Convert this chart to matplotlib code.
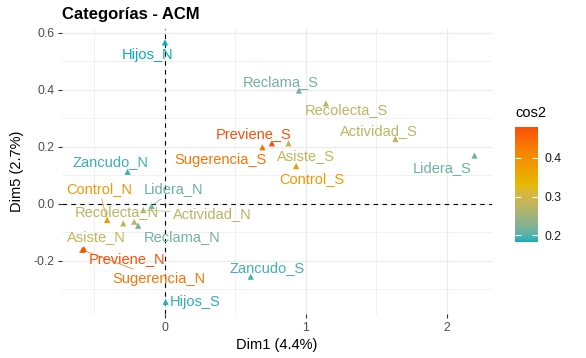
"""Mapa de categorias del ACM (Dim1 vs Dim5), coloreado por cos2."""
import numpy as np
import matplotlib
matplotlib.use("Agg")
import matplotlib.pyplot as plt
from matplotlib.colors import ListedColormap, Normalize, to_rgb
from matplotlib.cm import ScalarMappable

categorias = ["Hijos_N", "Hijos_S", "Zancudo_N", "Zancudo_S", "Reclama_S",
              "Reclama_N", "Lidera_S", "Lidera_N", "Recolecta_S", "Recolecta_N",
              "Actividad_S", "Actividad_N", "Asiste_S", "Asiste_N", "Control_S",
              "Control_N", "Sugerencia_S", "Sugerencia_N", "Previene_S", "Previene_N"]
dim1 = [0.000, 0.005, -0.265, 0.608, 0.950,
        -0.190, 2.195, -0.094, 1.141, -0.218,
        1.634, -0.154, 0.876, -0.296, 0.930,
        -0.410, 0.691, -0.587, 0.758, -0.575]
dim5 = [0.567, -0.343, 0.113, -0.255, 0.398,
        -0.076, 0.170, -0.007, 0.353, -0.062,
        0.228, -0.021, 0.213, -0.068, 0.133,
        -0.056, 0.199, -0.161, 0.213, -0.158]
cos2 = [0.183, 0.188, 0.192, 0.195, 0.215,
        0.215, 0.212, 0.212, 0.275, 0.275,
        0.275, 0.275, 0.285, 0.285, 0.385,
        0.385, 0.435, 0.435, 0.480, 0.480]

TITULO = "Categorías - ACM"
ETIQ_X = "Dim1 (4.4%)"
ETIQ_Y = "Dim5 (2.7%)"
GRADIENTE = ["#00AFBB", "#E7B800", "#FC4E07"]
x_ticks = [0, 1, 2]
y_ticks = [-0.2, 0.0, 0.2, 0.4, 0.6]
cb_ticks = [0.2, 0.3, 0.4]

# desplazamiento de cada etiqueta respecto a su punto (pixeles), como ggrepel
desplaz = {
    "Hijos_N": (-17, -13), "Hijos_S": (29, 0), "Zancudo_N": (-17, 10),
    "Zancudo_S": (16, 9), "Reclama_S": (-18, 9), "Reclama_N": (44, -11),
    "Lidera_S": (-32, -12), "Lidera_N": (22, 17), "Recolecta_S": (21, -7),
    "Recolecta_N": (-17, 10), "Actividad_S": (-16, 8), "Actividad_N": (69, -4),
    "Asiste_S": (17, -13), "Asiste_N": (-27, -14), "Control_S": (16, -13),
    "Control_N": (-8, 31), "Sugerencia_S": (-42, -13), "Sugerencia_N": (77, -29),
    "Previene_S": (-18, 9), "Previene_N": (43, -10),
}
con_segmento = {"Control_N", "Lidera_N", "Actividad_N", "Previene_N", "Sugerencia_N"}

# gradiente interpolado en Lab, como scale_color_gradientn de ggplot
M = np.array([[0.4124, 0.3576, 0.1805],
              [0.2126, 0.7152, 0.0722],
              [0.0193, 0.1192, 0.9505]])
BLANCO = np.array([0.95047, 1.0, 1.08883])


def a_lab(c):
    c = np.asarray(c, float)
    lin = np.where(c <= 0.04045, c / 12.92, ((c + 0.055) / 1.055) ** 2.4)
    xyz = M @ lin / BLANCO
    f = np.where(xyz > 0.008856, np.cbrt(xyz), 7.787 * xyz + 16 / 116)
    return np.array([116 * f[1] - 16, 500 * (f[0] - f[1]), 200 * (f[1] - f[2])])


def a_rgb(lab):
    fy = (lab[0] + 16) / 116
    f = np.array([fy + lab[1] / 500, fy, fy - lab[2] / 200])
    xyz = np.where(f ** 3 > 0.008856, f ** 3, (f - 16 / 116) / 7.787) * BLANCO
    lin = np.clip(np.linalg.inv(M) @ xyz, 0, 1)
    return np.clip(np.where(lin <= 0.0031308, 12.92 * lin, 1.055 * lin ** (1 / 2.4) - 0.055), 0, 1)


labs = [a_lab(to_rgb(c)) for c in GRADIENTE]
muestras = []
for t in np.linspace(0, 1, 256):
    i = 0 if t < 0.5 else 1
    u = (t - 0.5 * i) / 0.5
    muestras.append(a_rgb(labs[i] * (1 - u) + labs[i + 1] * u))
cmap = ListedColormap(muestras)
norm = Normalize(min(cos2), max(cos2))

plt.rcParams["font.family"] = ["Liberation Sans", "DejaVu Sans"]
plt.rcParams["axes.unicode_minus"] = False

W, H = 586, 358
fig = plt.figure(figsize=(W / 100, H / 100), dpi=100)
ax = fig.add_axes([62 / W, 1 - 314 / H, 430 / W, 285 / H])

ax.set_xlim(-0.730, 2.319)
ax.set_ylim(-0.386, 0.614)
ax.set_xticks(x_ticks)
ax.set_xticklabels([str(v) for v in x_ticks])
ax.set_yticks(y_ticks)
ax.set_yticklabels([f"{v:.1f}" for v in y_ticks])
ax.set_xticks([-0.5, 0.5, 1.5], minor=True)
ax.set_yticks([-0.3, -0.1, 0.1, 0.3, 0.5], minor=True)
ax.grid(which="major", color="#EBEBEB", lw=0.9)
ax.grid(which="minor", color="#EBEBEB", lw=0.5)
ax.set_axisbelow(True)
for s in ax.spines.values():
    s.set_visible(False)
ax.tick_params(which="major", length=3, width=0.8, color="#333333", pad=2.5,
               labelsize=8.7, labelcolor="#4D4D4D")
ax.tick_params(which="minor", length=0)

ax.axhline(0, color="black", lw=0.8, ls=(0, (4, 4)), zorder=1)
ax.axvline(0, color="black", lw=0.8, ls=(0, (4, 4)), zorder=1)

ax.scatter(dim1, dim5, c=cos2, cmap=cmap, norm=norm, marker="^", s=20,
           linewidths=0, zorder=3)

for nombre, x, y, c in zip(categorias, dim1, dim5, cos2):
    col = cmap(norm(c))
    props = None
    if nombre in con_segmento:
        props = dict(arrowstyle="-", color=col, lw=0.5, shrinkA=0, shrinkB=2)
    ax.annotate(nombre, (x, y), xytext=desplaz[nombre], textcoords="offset pixels",
                ha="center", va="center", color=col, fontsize=10.5,
                arrowprops=props, zorder=4)

fig.text(62 / W, 1 - 14 / H, TITULO, fontsize=12, fontweight="bold",
         ha="left", va="center")
fig.text(277 / W, 1 - 345 / H, ETIQ_X, fontsize=10.5, ha="center", va="center")
fig.text(17 / W, 1 - 171 / H, ETIQ_Y, fontsize=10.5, rotation=90,
         ha="center", va="center")

cax = fig.add_axes([515 / W, 1 - 242 / H, 23 / W, 115 / H])
cb = fig.colorbar(ScalarMappable(norm=norm, cmap=cmap), cax=cax)
cb.outline.set_visible(False)
cb.set_ticks(cb_ticks)
cb.set_ticklabels([f"{v:.1f}" for v in cb_ticks])
cax.tick_params(direction="in", color="white", length=4, width=0.8,
                left=True, right=True, labelsize=8.7, labelcolor="#1A1A1A", pad=5)
fig.text(515 / W, 1 - 113 / H, "cos2", fontsize=10.5, ha="left", va="center")

fig.savefig("out.png", dpi=100)
plt.close(fig)
